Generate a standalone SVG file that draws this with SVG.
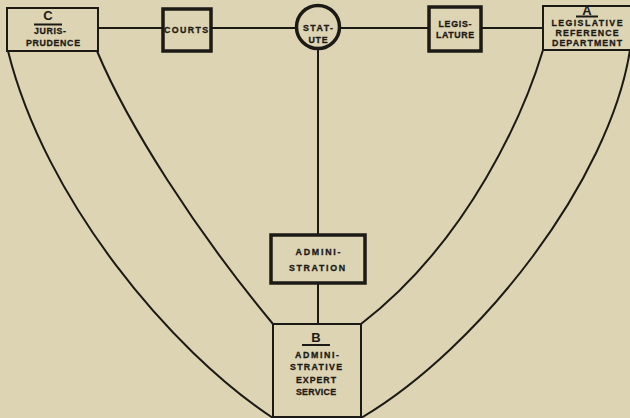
<svg xmlns="http://www.w3.org/2000/svg" width="630" height="418" viewBox="0 0 630 418">
<style>
.thin{fill:none;stroke:#1c1a16;stroke-width:2}
.thick{fill:none;stroke:#1c1a16;stroke-width:3.5}
.t{font-family:"Liberation Sans",Arial,sans-serif;font-weight:bold;font-size:8.8px;fill:#1c1a16;stroke:#1c1a16;stroke-width:0.3;text-anchor:middle}
.big{font-family:"Liberation Sans",Arial,sans-serif;font-weight:bold;font-size:13px;fill:#1c1a16;text-anchor:middle}
</style>
<rect width="630" height="418" fill="#dcd4b3"/>
<g id="connectors">
<line class="thin" x1="98" y1="28" x2="162" y2="28"/>
<line class="thin" x1="212" y1="28" x2="296" y2="28"/>
<line class="thin" x1="340" y1="28" x2="428" y2="28"/>
<line class="thin" x1="482" y1="28" x2="543" y2="28"/>
<line class="thin" x1="318" y1="49" x2="318" y2="235"/>
<line class="thin" x1="318" y1="283" x2="318" y2="324"/>
<path class="thin" d="M8,51 C45,200 170,350 273,418"/>
<path class="thin" d="M97,51 C128,125 195,230 273,324"/>
<path class="thin" d="M543,50 C525,110 470,240 361,324"/>
<path class="thin" d="M630,50 C610,180 480,348 361,418"/>
</g>
<g id="jurisprudence">
<rect class="thin" x="7" y="8" width="91" height="43"/>
<text class="big" x="48" y="20">C</text>
<line class="thin" x1="34" y1="24.5" x2="62" y2="24.5" stroke-width="1.5"/>
<text class="t" x="50" y="34" textLength="32" lengthAdjust="spacing">JURIS-</text>
<text class="t" x="53" y="46" textLength="54" lengthAdjust="spacing">PRUDENCE</text>
</g>
<g id="courts">
<rect class="thick" x="163" y="9" width="48" height="42"/>
<text class="t" x="186" y="33" textLength="44" lengthAdjust="spacing">COURTS</text>
</g>
<g id="statute">
<circle class="thick" cx="318" cy="27" r="21.5"/>
<text class="t" x="318" y="31" textLength="30" lengthAdjust="spacing">STAT-</text>
<text class="t" x="318" y="43" textLength="19" lengthAdjust="spacing">UTE</text>
</g>
<g id="legislature">
<rect class="thick" x="429" y="7" width="52" height="44"/>
<text class="t" x="455" y="27" textLength="33" lengthAdjust="spacing">LEGIS-</text>
<text class="t" x="455" y="38" textLength="38" lengthAdjust="spacing">LATURE</text>
</g>
<g id="legislative-reference">
<rect class="thin" x="543" y="6" width="90" height="44"/>
<text class="big" x="587" y="15" font-size="11">A</text>
<line class="thin" x1="576" y1="16.5" x2="598" y2="16.5" stroke-width="1.5"/>
<text class="t" x="587" y="26" textLength="71" lengthAdjust="spacing">LEGISLATIVE</text>
<text class="t" x="587" y="36" textLength="63" lengthAdjust="spacing">REFERENCE</text>
<text class="t" x="587" y="46" textLength="70" lengthAdjust="spacing">DEPARTMENT</text>
</g>
<g id="administration">
<rect class="thick" x="271" y="235" width="94" height="48" stroke-width="3"/>
<text class="t" x="318" y="255" textLength="45" lengthAdjust="spacing">ADMINI-</text>
<text class="t" x="317" y="271" textLength="56" lengthAdjust="spacing">STRATION</text>
</g>
<g id="expert-service">
<rect class="thin" x="273" y="324" width="88" height="93"/>
<text class="big" x="316" y="342">B</text>
<line class="thin" x1="302" y1="345" x2="330" y2="345" stroke-width="1.5"/>
<text class="t" x="317" y="358" textLength="44" lengthAdjust="spacing">ADMINI-</text>
<text class="t" x="316" y="370" textLength="52" lengthAdjust="spacing">STRATIVE</text>
<text class="t" x="316" y="383" textLength="40" lengthAdjust="spacing">EXPERT</text>
<text class="t" x="316" y="395" textLength="40" lengthAdjust="spacing">SERVICE</text>
</g>
</svg>
